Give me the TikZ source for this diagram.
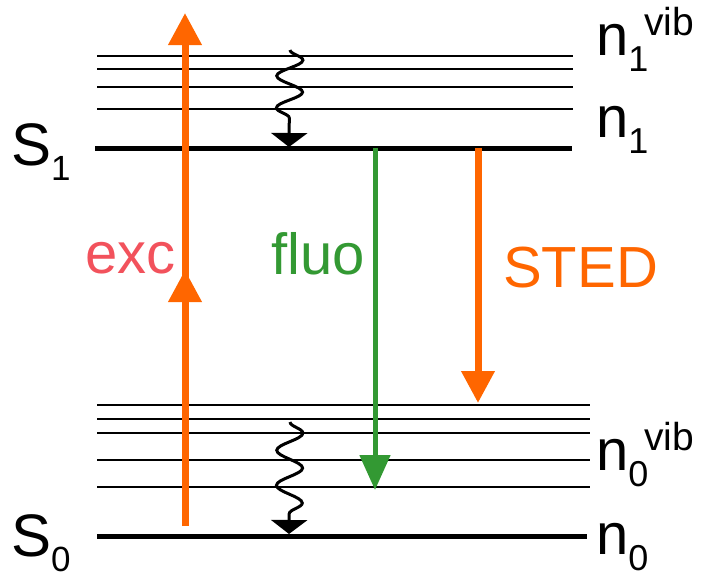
\documentclass[tikz,border=0pt]{standalone}
\usepackage{fontspec}
\setmainfont{Liberation Sans}
\usetikzlibrary{arrows.meta,decorations.pathmorphing}
\definecolor{laser}{RGB}{255,102,0}
\definecolor{fluogreen}{RGB}{51,153,51}
\definecolor{exccol}{RGB}{242,82,92}
\newcommand{\bigfont}{\fontsize{58}{62}\selectfont}
\newcommand{\statefont}{\fontsize{60}{64}\selectfont}
\newcommand{\lowidx}[1]{\raisebox{-16pt}{\fontsize{36}{38}\selectfont #1}}
\newcommand{\statelow}[1]{\raisebox{-15pt}{\fontsize{35}{38}\selectfont #1}}
\newcommand{\highidx}[1]{\kern-4pt\raisebox{20pt}{\fontsize{39}{40}\selectfont #1}}
\begin{document}
\begin{tikzpicture}[x=1pt,y=-1pt,
  vib/.style={line width=2.7pt},
  elec/.style={line width=5pt},
  lbl/.style={anchor=base west,inner sep=0pt,font=\bigfont},
  slbl/.style={anchor=base west,inner sep=0pt,font=\statefont},
  relax/.style={line width=3pt,decorate,
    decoration={snake,amplitude=13pt,segment length=#1,post length=18pt},
    -{Triangle[width=36pt,length=14pt]}},
  pump/.style={laser,line width=7pt,-{Triangle[width=32pt,length=32pt]}},
  emis/.style={fluogreen,line width=5pt,-{Triangle[width=30pt,length=35pt]}}]
\useasboundingbox (0,0) rectangle (704,576);

% excited state S1 and its vibrational levels
\coordinate (u1l) at (97,56);  \coordinate (u1r) at (573,56);
\coordinate (u2l) at (97,69);  \coordinate (u2r) at (573,69);
\coordinate (u3l) at (97,87);  \coordinate (u3r) at (573,87);
\coordinate (u4l) at (97,109); \coordinate (u4r) at (573,109);
\coordinate (s1l) at (95,148); \coordinate (s1r) at (572,148);
\foreach \k in {1,...,4} \draw[vib] (u\k l) -- (u\k r);
\draw[elec] (s1l) -- (s1r);

% ground state S0 and its vibrational levels
\coordinate (d1l) at (97,405); \coordinate (d1r) at (590,405);
\coordinate (d2l) at (97,419); \coordinate (d2r) at (590,419);
\coordinate (d3l) at (97,433); \coordinate (d3r) at (590,433);
\coordinate (d4l) at (97,460); \coordinate (d4r) at (590,460);
\coordinate (d5l) at (97,487); \coordinate (d5r) at (590,487);
\coordinate (s0l) at (97,536); \coordinate (s0r) at (587,536);
\foreach \k in {1,...,5} \draw[vib] (d\k l) -- (d\k r);
\draw[elec] (s0l) -- (s0r);

% non-radiative relaxation
\coordinate (r1a) at (290,50);  \coordinate (r1b) at (289,147);
\coordinate (r0a) at (290,422); \coordinate (r0b) at (289,534);
\draw[relax=32pt] (r1a) -- (r1b);
\draw[relax=35pt] (r0a) -- (r0b);

% excitation
\coordinate (ex0) at (185,526);
\coordinate (exm) at (185,270);
\coordinate (exb) at (185,300);
\coordinate (ex1) at (185,13);
\draw[pump] (ex0) -- (exm);
\draw[pump] (exb) -- (ex1);

% fluorescence
\coordinate (fl1) at (375,148);
\coordinate (fl0) at (375,490);
\draw[emis] (fl1) -- (fl0);

% stimulated emission depletion
\coordinate (st1) at (478,148);
\coordinate (st0) at (478,403);
\draw[pump] (st1) -- (st0);

% labels
\node[lbl,text=exccol] (lexc) at (85,273) {exc};
\node[lbl,text=fluogreen] (lfluo) at (271,274) {fluo};
\node[lbl,text=laser] (lsted) at (503,287) {STED};
\node[slbl] (ls1) at (11,165) {S\statelow{1}};
\node[slbl] (ls0) at (11,556) {S\statelow{0}};
\node[lbl] (ln1v) at (596,55) {n\lowidx{1}\highidx{vib}};
\node[lbl] (ln1) at (596,137) {n\lowidx{1}};
\node[lbl] (ln0v) at (596,470) {n\lowidx{0}\highidx{vib}};
\node[lbl] (ln0) at (596,554) {n\lowidx{0}};
\end{tikzpicture}
\end{document}
